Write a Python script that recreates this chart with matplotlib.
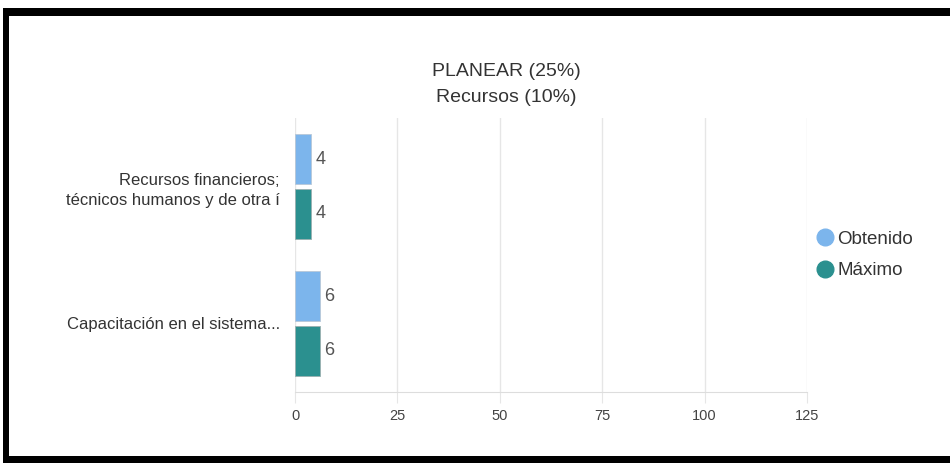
import matplotlib
matplotlib.use("Agg")
import matplotlib.pyplot as plt
from matplotlib.patches import Rectangle
from matplotlib.lines import Line2D
import numpy as np

plt.rcParams['font.family'] = ['Liberation Sans', 'DejaVu Sans']

categories = ["Recursos financieros;\ntécnicos humanos y de otra í",
              "Capacitación en el sistema..."]
series_names = ["Obtenido", "Máximo"]
obtenido = [4, 6]
maximo = [4, 6]
colors = ["#7cb5ec", "#2b908f"]
xticks = [0, 25, 50, 75, 100, 125]

W, H = 950, 463
fig = plt.figure(figsize=(W / 100, H / 100), dpi=100)


def frame_bar(x0, y0, x1, y1):
    # black frame piece, given in pixels from the top left corner
    fig.patches.append(Rectangle((x0 / W, 1 - y1 / H), (x1 - x0) / W,
                                 (y1 - y0) / H, transform=fig.transFigure,
                                 facecolor="black", edgecolor="none",
                                 zorder=0))


frame_bar(3, 8, 960, 16)
frame_bar(3, 8, 9, 462)
frame_bar(3, 456, 960, 463)

ax = fig.add_axes([295 / W, 1 - 392 / H, (807 - 295) / W, (392 - 118) / H])

y = np.arange(len(categories))
bh = 0.365
off = 0.2
b1 = ax.barh(y - off, obtenido, height=bh, color=colors[0],
             edgecolor="#b8c8d8", linewidth=0.6, zorder=3)
b2 = ax.barh(y + off, maximo, height=bh, color=colors[1],
             edgecolor="#9ab0b0", linewidth=0.6, zorder=3)

for bars, vals in ((b1, obtenido), (b2, maximo)):
    for bar, v in zip(bars, vals):
        ax.text(v + 1.1, bar.get_y() + bar.get_height() / 2, str(v),
                va="center", ha="left", fontsize=13, color="#555555")

ax.set_xlim(0, 125)
ax.set_ylim(len(categories) - 0.5, -0.5)
ax.set_xticks(xticks)
ax.set_xticklabels([str(t) for t in xticks])
ax.set_yticks(y)
ax.set_yticklabels(categories, fontsize=12, color="#333333",
                   linespacing=1.45)
ax.tick_params(axis="y", length=0, pad=11)
ax.tick_params(axis="x", length=8, color="#e6e6e6", labelsize=10.5,
               labelcolor="#444444", pad=4)
ax.xaxis.grid(True, color="#e6e6e6", linewidth=1, zorder=0)
for s in ("top", "right", "left"):
    ax.spines[s].set_visible(False)
ax.spines["bottom"].set_color("#dddddd")

fig.text(506 / W, 1 - 72 / H, "PLANEAR (25%)", ha="center", va="center",
         fontsize=14, color="#333333")
fig.text(506 / W, 1 - 97 / H, "Recursos (10%)", ha="center", va="center",
         fontsize=14, color="#333333")

handles = [Line2D([], [], marker="o", linestyle="none", markersize=12,
                  markerfacecolor=c, markeredgecolor=c) for c in colors]
fig.legend(handles, series_names, loc="center left",
           bbox_to_anchor=(799 / W, 1 - 255 / H), frameon=False,
           fontsize=13.5, handletextpad=0.15, labelspacing=0.75,
           handlelength=1.0, labelcolor="#333333")

fig.savefig("out.png", dpi=100)
